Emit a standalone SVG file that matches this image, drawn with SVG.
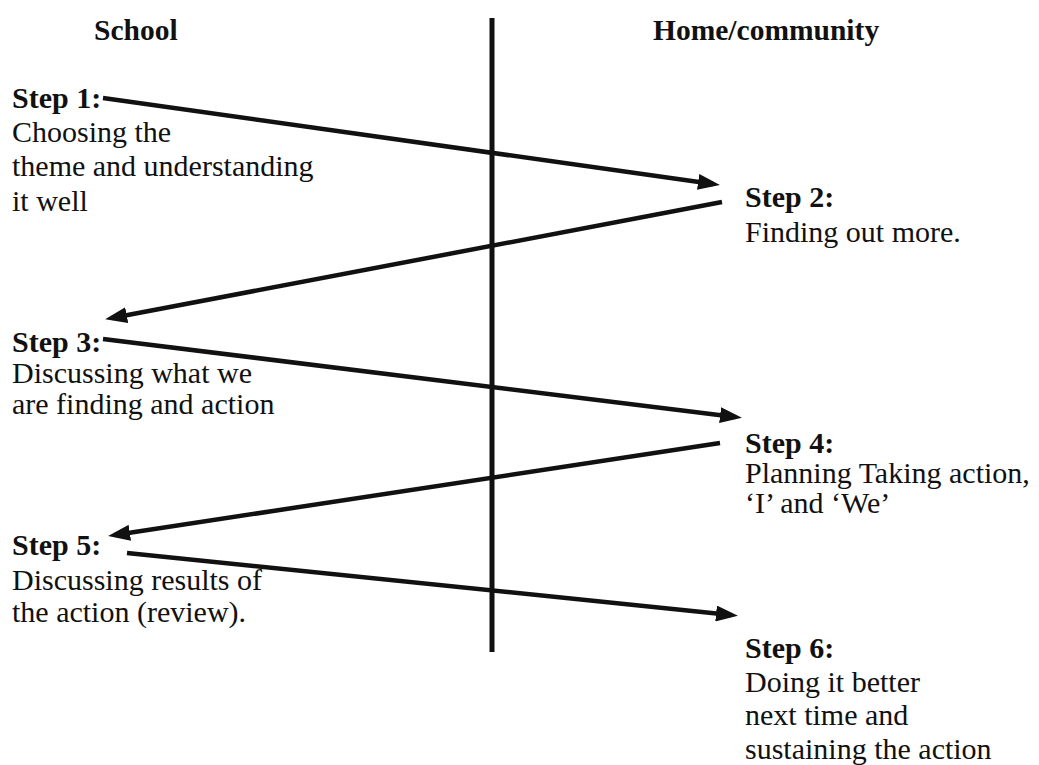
<svg xmlns="http://www.w3.org/2000/svg" width="1039" height="765" viewBox="0 0 1039 765">
<style>
  text { font-family: "Liberation Serif", "Times New Roman", serif; fill: #111; }
  .hdr { font-size: 29.5px; font-weight: bold; }
  .lbl { font-size: 30px; font-weight: bold; }
  .body { font-size: 30px; }
  .conn { stroke: #111; stroke-width: 4.5; fill: none; marker-end: url(#ah); }
  .divider { stroke: #111; stroke-width: 5; }
</style>
<defs>
  <marker id="ah" markerUnits="userSpaceOnUse" markerWidth="22" markerHeight="16" viewBox="0 0 22 16" refX="15" refY="8" orient="auto">
    <path d="M0,0 L22,8 L0,16 z" fill="#111"/>
  </marker>
</defs>
<rect width="1039" height="765" fill="#fff"/>

<g id="headers">
  <text class="hdr" x="94" y="40">School</text>
  <text class="hdr" x="653" y="40">Home/community</text>
</g>

<g id="divider">
  <line class="divider" x1="492" y1="18" x2="492" y2="652"/>
</g>

<g id="step1">
  <text class="lbl" x="12" y="108">Step 1:</text>
  <text class="body" x="12" y="142">Choosing the</text>
  <text class="body" x="12" y="176">theme and understanding</text>
  <text class="body" x="12" y="211">it well</text>
</g>

<g id="step2">
  <text class="lbl" x="745" y="207">Step 2:</text>
  <text class="body" x="745" y="242">Finding out more.</text>
</g>

<g id="step3">
  <text class="lbl" x="12" y="352">Step 3:</text>
  <text class="body" x="12" y="383">Discussing what we</text>
  <text class="body" x="12" y="414">are finding and action</text>
</g>

<g id="step4">
  <text class="lbl" x="745" y="453">Step 4:</text>
  <text class="body" x="745" y="483">Planning Taking action,</text>
  <text class="body" x="745" y="513">&#8216;I&#8217; and &#8216;We&#8217;</text>
</g>

<g id="step5">
  <text class="lbl" x="12" y="555">Step 5:</text>
  <text class="body" x="12" y="590">Discussing results of</text>
  <text class="body" x="12" y="622">the action (review).</text>
</g>

<g id="step6">
  <text class="lbl" x="745" y="658">Step 6:</text>
  <text class="body" x="745" y="692">Doing it better</text>
  <text class="body" x="745" y="725">next time and</text>
  <text class="body" x="745" y="759">sustaining the action</text>
</g>

<g id="connectors">
  <line class="conn" x1="103" y1="98" x2="713" y2="184"/>
  <line class="conn" x1="722" y1="202" x2="112" y2="318"/>
  <line class="conn" x1="103" y1="339" x2="735" y2="417"/>
  <line class="conn" x1="720" y1="443" x2="115" y2="535"/>
  <line class="conn" x1="127" y1="553" x2="731" y2="615"/>
</g>
</svg>
